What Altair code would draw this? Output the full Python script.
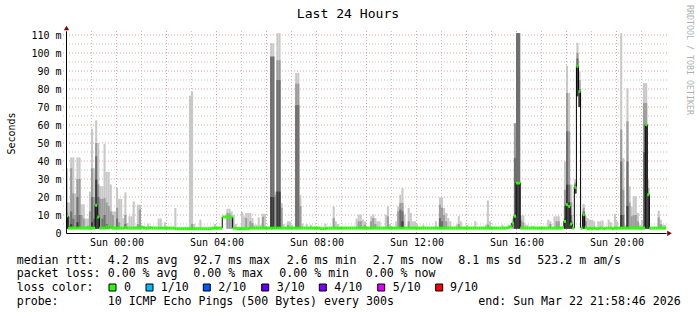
import altair as alt
import pandas as pd

# ---------------- data ----------------
STEP = 5.0                  # minutes per RRD step (300 s)
START = -121.2333           # Sat 21:58:46, minutes relative to Sun 00:00
END = START + 288 * STEP    # Sun 21:58:46

# median rtt per 5-minute step (ms), 288 steps, 24 per row (= 2 hours)
median_rtt = [
    9.5, 2.7, 2.7, 2.7, 2.7, 2.7, 2.7, 2.7, 2.7, 2.7, 2.7, 2.7,
    2.7, 2.7, 15.4, 8.9, 2.7, 2.7, 2.7, 3.3, 2.7, 3.5, 2.7, 2.7,
    2.7, 2.7, 2.7, 2.7, 3.0, 2.7, 2.7, 2.7, 2.7, 2.7, 2.7, 2.7,
    3.3, 2.7, 2.7, 2.7, 3.0, 2.7, 2.7, 2.7, 2.7, 2.7, 2.7, 2.7,
    2.7, 2.7, 2.7, 2.7, 2.4, 2.4, 2.4, 2.4, 2.4, 2.4, 2.4, 2.4,
    2.4, 2.4, 2.4, 2.4, 2.4, 2.4, 2.4, 2.4, 2.4, 2.4, 2.7, 2.7,
    2.7, 2.7, 2.7, 8.9, 8.9, 8.9, 8.9, 8.9, 2.7, 2.7, 2.4, 2.4,
    2.4, 2.4, 2.4, 2.4, 2.7, 2.7, 2.7, 2.7, 2.7, 2.7, 2.7, 2.7,
    2.7, 2.7, 2.7, 2.7, 2.7, 2.7, 2.7, 2.7, 2.7, 2.7, 2.7, 2.7,
    2.7, 2.7, 2.7, 2.7, 2.7, 2.7, 2.7, 2.7, 2.7, 2.7, 2.7, 2.7,
    2.7, 2.7, 2.4, 2.4, 2.4, 2.7, 2.7, 2.7, 2.7, 2.7, 2.7, 2.7,
    2.7, 2.7, 2.7, 2.7, 2.7, 2.7, 2.7, 2.7, 2.7, 2.7, 2.7, 2.7,
    2.7, 2.7, 2.7, 2.7, 2.7, 2.7, 2.7, 2.7, 2.7, 2.7, 2.7, 2.7,
    2.7, 2.7, 2.7, 2.7, 2.7, 2.7, 2.7, 2.7, 2.7, 2.7, 2.7, 2.7,
    2.7, 2.7, 2.7, 2.7, 2.7, 2.7, 2.7, 2.7, 2.7, 2.7, 2.7, 2.7,
    2.7, 2.7, 2.7, 2.7, 2.7, 2.7, 2.7, 2.7, 2.7, 2.7, 2.7, 2.7,
    2.7, 2.7, 2.7, 2.7, 2.7, 2.7, 2.7, 2.7, 2.7, 2.7, 2.7, 2.7,
    2.7, 2.7, 2.7, 2.7, 2.7, 2.7, 2.7, 2.7, 3.0, 3.5, 5.6, 9.3,
    27.8, 27.8, 2.7, 2.7, 2.7, 2.7, 2.7, 2.7, 2.7, 2.7, 2.7, 2.7,
    2.7, 2.7, 2.7, 2.7, 2.7, 2.7, 2.7, 2.7, 2.7, 2.7, 3.0, 6.5,
    15.7, 14.8, 5.0, 2.7, 25.4, 92.6, 78.7, 2.7, 10.2, 3.0, 2.4, 2.7,
    2.4, 2.7, 2.4, 2.4, 2.7, 2.7, 2.4, 2.7, 2.7, 2.7, 2.4, 2.7,
    2.7, 2.7, 2.7, 2.7, 2.7, 2.7, 2.7, 2.7, 2.7, 2.7, 2.7, 2.7,
    2.7, 2.7, 60.2, 21.3, 2.7, 2.7, 2.7, 2.7, 2.7, 2.7, 2.7, 2.7,
]

# smoke: top of each shade band per step index (ms)
smoke_max = {
    0: 36, 1: 17, 2: 42, 3: 42, 4: 22, 5: 42, 6: 42, 7: 16, 8: 16, 9: 8, 10: 8,
    11: 23, 12: 58, 13: 36, 14: 62.6, 15: 50, 16: 26, 17: 26, 18: 49.6, 19: 34,
    20: 34, 21: 27, 22: 12, 23: 12, 24: 25, 25: 19, 26: 19, 27: 8.3, 28: 22.6,
    29: 5.6, 30: 9.3, 31: 9.3, 32: 17.6, 33: 4, 34: 15.7, 35: 15.7, 36: 4, 37: 4,
    39: 5.2, 44: 8, 45: 8, 47: 6, 52: 13.9, 59: 76.3, 60: 78.7, 61: 5, 64: 7.4,
    71: 5, 75: 9.5, 76: 9.5, 77: 13.5, 78: 13.5, 79: 12, 80: 10, 81: 5, 84: 11.7,
    85: 9.3, 86: 11.1, 87: 11.1, 88: 11.1, 89: 8.3, 90: 4.6, 91: 4.6, 92: 8.7,
    93: 4.6, 94: 10.7, 95: 10.7, 98: 105.5, 99: 105.5, 100: 23, 101: 111,
    102: 111, 103: 16.7, 104: 5, 106: 6.5, 107: 6.5, 108: 4.6, 110: 89, 111: 89,
    112: 21, 113: 5.2, 115: 5, 117: 4.6, 124: 5.2, 128: 14.8, 129: 6.5, 130: 5,
    139: 8, 140: 10.2, 141: 10.2, 142: 7.4, 143: 6.5, 146: 9.3, 147: 10.2,
    148: 8.3, 149: 6.5, 150: 6.5, 153: 10.2, 154: 14.8, 155: 5, 158: 6.5,
    159: 14.8, 160: 21.3, 161: 25, 162: 10.2, 164: 13.9, 165: 11.1, 166: 6.5,
    167: 6.5, 168: 5, 171: 4.6, 177: 6.5, 179: 19.8, 180: 19.8, 181: 13.9,
    182: 11.1, 183: 8.3, 184: 6.5, 187: 4.6, 188: 9.3, 189: 6.5, 192: 4.6,
    196: 6.5, 201: 4.6, 202: 18.1, 203: 6.5, 209: 4.6, 212: 4.6, 213: 4.6,
    214: 8, 215: 61, 216: 111, 217: 111, 218: 9.8, 219: 9.8, 220: 4.6, 221: 4.6,
    223: 4, 224: 4, 231: 7.4, 232: 6.5, 234: 9.3, 235: 9.3, 236: 9.3, 239: 39.8,
    240: 93, 241: 77.8, 242: 26.9, 244: 30, 245: 105.6, 246: 89.8, 248: 16.1,
    249: 9.3, 250: 8.3, 251: 7.4, 252: 7.4, 253: 6.5, 255: 6.5, 256: 6.5, 257: 7,
    260: 7.4, 261: 6, 263: 10.6, 264: 6.5, 266: 111, 267: 41.7, 268: 4.6,
    269: 80.6, 270: 25.9, 271: 14.8, 272: 20.4, 273: 20.4, 274: 11.1, 275: 4.6,
    276: 7.4, 277: 83.3, 278: 83.3, 279: 29.6, 284: 12.4, 285: 7.4, 286: 4.6,
    287: 4.6,
}
smoke_mid = {
    0: 17, 1: 9, 2: 36, 3: 22, 4: 10, 5: 30, 6: 30, 7: 10, 8: 8, 10: 4, 11: 12,
    12: 36, 13: 20, 14: 50, 15: 27, 16: 19, 17: 19, 18: 19.4, 19: 17, 20: 15,
    21: 12, 22: 10, 24: 14, 25: 6, 28: 10, 34: 5, 35: 13, 60: 5, 77: 11, 78: 11,
    79: 9, 86: 8.3, 88: 6.5, 89: 5.5, 94: 9, 98: 98, 99: 98, 100: 21, 101: 96,
    102: 96, 103: 14, 106: 4.6, 110: 83, 111: 83, 112: 15, 128: 8.3, 140: 6.5,
    141: 6.5, 143: 4.6, 146: 6.5, 147: 8.3, 148: 5, 154: 9.3, 159: 12, 160: 16.7,
    161: 16.7, 164: 6.5, 179: 15.7, 180: 14, 181: 10, 182: 6.5, 188: 5, 202: 4.6,
    214: 6, 215: 61, 216: 111, 217: 111, 218: 7, 219: 6, 232: 5, 235: 6.5,
    236: 6.5, 239: 24, 240: 77.8, 241: 56.5, 242: 17, 244: 28, 245: 100, 246: 85,
    248: 14, 249: 6.5, 266: 57.4, 267: 24, 269: 62, 270: 17, 271: 9.3, 272: 10,
    273: 10, 274: 6.5, 277: 72.2, 278: 72.2, 279: 25, 284: 8.7, 285: 5,
}
smoke_dark = {
    0: 11, 1: 4, 2: 12, 3: 8, 5: 20, 6: 10, 12: 20, 13: 8, 14: 42.6, 15: 20,
    17: 8, 18: 10, 19: 5, 24: 8, 28: 5, 98: 98, 99: 98, 101: 85, 102: 85,
    110: 71, 111: 71, 160: 13, 161: 12, 179: 8.3, 180: 6.5, 215: 41.7, 216: 111,
    217: 111, 239: 15, 240: 56.5, 241: 26.9, 242: 10, 244: 27, 245: 97, 246: 80,
    248: 12, 266: 39.8, 267: 10, 269: 39.8, 277: 45, 278: 60.2, 279: 21.3,
}
smoke_core = {
    0: 9, 2: 5, 5: 6, 12: 6, 14: 29.6, 15: 10, 98: 20, 99: 20, 101: 23, 102: 23,
    161: 6.5, 215: 9.3, 216: 28.7, 217: 28.7, 239: 8, 240: 26.9, 241: 17,
    242: 6.5, 244: 26, 245: 93, 246: 78.7, 248: 11, 266: 10, 269: 15, 278: 60.2,
    279: 21.3,
}
smoke_floor_default = 2.4
smoke_floor = {75: 8.5, 76: 8.5, 244: 22, 245: 76, 246: 70}

label_ticks = [0, 240, 480, 720, 960, 1200]               # minutes
major_x = [-120, 0, 120, 240, 360, 480, 600, 720, 840, 960, 1080, 1200]
minor_x = [-60, 60, 180, 300, 420, 540, 660, 780, 900, 1020, 1140, 1260]
y_ticks = [0, 10, 20, 30, 40, 50, 60, 70, 80, 90, 100, 110]
major_y = [10, 20, 30, 40, 50, 60, 70, 80, 90, 100, 110]
minor_y = [5, 15, 25, 35, 45, 55, 65, 75, 85, 95, 105]

title_text = "Last 24 Hours"
y_title = "Seconds"
side_text = "RRDTOOL / TOBI OETIKER"
row_rtt = ["median rtt:", "4.2 ms avg", "92.7 ms max", "2.6 ms min",
           "2.7 ms now", "8.1 ms sd", "523.2 m am/s"]
row_loss = ["packet loss:", "0.00 % avg", "0.00 % max", "0.00 % min", "0.00 % now"]
loss_labels = ["0", "1/10", "2/10", "3/10", "4/10", "5/10", "9/10"]
loss_colors = ["#26ff00", "#00b8ff", "#0059ff", "#5e00ff", "#7e00ff", "#dd00ff", "#ff0000"]
row_probe = ["probe:", "10 ICMP Echo Pings (500 Bytes) every 300s",
             "end: Sun Mar 22 21:58:46 2026"]

# ---------------- layout / style ----------------
FONT = "DejaVu Sans Mono"
W, H = 600, 202
PL, PT = 66, 31
GREY = ["#c8c8c8", "#9c9c9c", "#6e6e6e", "#3c3c3c"]

steps = pd.DataFrame({"k": range(len(median_rtt)), "median": median_rtt})
steps["t0"] = START + STEP * steps["k"]
steps["t1"] = steps["t0"] + STEP
steps["prev"] = steps["median"].shift(1)
jumps = steps[steps["prev"].notna() & (steps["prev"] != steps["median"])]


def band(d):
    ks = sorted(d)
    df = pd.DataFrame({"k": ks, "top": [d[i] for i in ks]})
    df["lo"] = [smoke_floor.get(i, smoke_floor_default) for i in ks]
    df["t0"] = START + STEP * df["k"]
    df["t1"] = df["t0"] + STEP
    return df[df["top"] > df["lo"]]


xscale = alt.Scale(domain=[START, END], nice=False, zero=False)
yscale = alt.Scale(domain=[0, H / 1.8], nice=False, zero=False)
xaxis = alt.Axis(
    values=label_ticks, title=None, grid=False, ticks=False,
    labelExpr="'Sun ' + (datum.value < 600 ? '0' : '') + datum.value / 60 + ':00'",
    labelFont=FONT, labelFontSize=10, labelColor="#000000", labelBaseline="alphabetic",
    labelPadding=12, labelFlush=False, labelOverlap=False,
    domainColor="#000000", domainWidth=1, zindex=1,
)
yaxis = alt.Axis(
    values=y_ticks, title=None, grid=False, ticks=False,
    labelExpr="datum.value == 0 ? '0\u00a0\u00a0' : datum.value + ' m'",
    labelFont=FONT, labelFontSize=10, labelColor="#000000", labelBaseline="middle",
    labelPadding=5, labelOverlap=False, labelFlush=False,
    domainColor="#000000", domainWidth=1, zindex=1,
)


def X(f):
    return alt.X(f"{f}:Q", scale=xscale, axis=xaxis)


def Y(f):
    return alt.Y(f"{f}:Q", scale=yscale, axis=yaxis)


layers = []
# grid
for vals, col in ((minor_x, "#c4c4c4"), (major_x, "#eaa0a0")):
    layers.append(alt.Chart(pd.DataFrame({"v": vals})).mark_rule(
        color=col, strokeDash=[1, 2], strokeWidth=1).encode(
        x=X("v"), y=alt.value(0), y2=alt.value(H + 2)))
for vals, col in ((minor_y, "#c4c4c4"), (major_y, "#eaa0a0")):
    layers.append(alt.Chart(pd.DataFrame({"v": vals})).mark_rule(
        color=col, strokeDash=[1, 2], strokeWidth=1).encode(
        y=Y("v"), x=alt.value(-3), x2=alt.value(W + 2)))

# smoke
for d, col in zip((smoke_max, smoke_mid, smoke_dark, smoke_core), GREY):
    layers.append(alt.Chart(band(d)).mark_rect(color=col, clip=True).encode(
        x=X("t0"), x2=alt.X2("t1"), y=Y("lo"), y2=alt.Y2("top")))

# median: black risers + green steps
layers.append(alt.Chart(jumps).mark_rule(color="#000000", strokeWidth=1, clip=True).encode(
    x=X("t0"), y=Y("prev"), y2=alt.Y2("median")))
layers.append(alt.Chart(steps).mark_rule(color="#26ff00", strokeWidth=3, clip=True).encode(
    x=X("t0"), x2=alt.X2("t1"), y=Y("median")))

one = pd.DataFrame({"_": [0]})


def text(s, ax, ay, size=11.6, align="left", baseline="alphabetic", angle=0, color="#000000"):
    return alt.Chart(one).mark_text(
        font=FONT, fontSize=size, align=align, baseline=baseline, angle=angle, color=color
    ).encode(x=alt.value(ax - PL), y=alt.value(ay - PT), text=alt.value(s))


# arrows
layers.append(alt.Chart(one).mark_point(shape="triangle-right", filled=True, color="#7f0000",
                                        opacity=1, size=28).encode(
    x=alt.value(W + 3.5), y=alt.value(H + 0.3)))
layers.append(alt.Chart(one).mark_point(shape="triangle-up", filled=True, color="#7f0000",
                                        opacity=1, size=28).encode(
    x=alt.value(0.5), y=alt.value(-3)))

# titles
layers.append(text(title_text, 348, 17.8, size=13.1, align="center"))
layers.append(text(y_title, 12, 133.5, size=10, align="center", baseline="middle", angle=270))
layers.append(text(side_text, 688.5, 60, size=8.3, align="center", baseline="middle",
                   angle=90, color="#b0b0b0"))

# legend
for s, ax in zip(row_rtt, [16.7, 107.7, 193.3, 286.7, 372.7, 458.3, 537.3]):
    layers.append(text(s, ax, 263.5))
for s, ax in zip(row_loss, [16.7, 107.7, 193.3, 279.3, 365.7]):
    layers.append(text(s, ax, 277.3))
layers.append(text("loss color:", 16.7, 291))
for s, c, bx, tx in zip(loss_labels, loss_colors,
                        [109, 146, 203.3, 261.7, 319.3, 377.7, 435.7],
                        [124, 160.7, 218.3, 276.7, 334.3, 392.7, 450]):
    layers.append(alt.Chart(one).mark_rect(fill=c, stroke="#000000", strokeWidth=1).encode(
        x=alt.value(bx - PL), x2=alt.value(bx + 7 - PL),
        y=alt.value(284 - PT), y2=alt.value(291 - PT)))
    layers.append(text(s, tx, 291))
for s, ax in zip(row_probe, [16.7, 107.7, 478.3]):
    layers.append(text(s, ax, 304.7))

chart = alt.layer(*layers).properties(
    width=W, height=H,
    autosize=alt.AutoSizeParams(type="none"),
    padding={"left": PL, "top": PT, "right": 697 - PL - W, "bottom": 315 - PT - H},
    background="#ffffff",
).configure_view(strokeWidth=0)

chart.save("out.html", embed_options={"renderer": "svg", "actions": False})
